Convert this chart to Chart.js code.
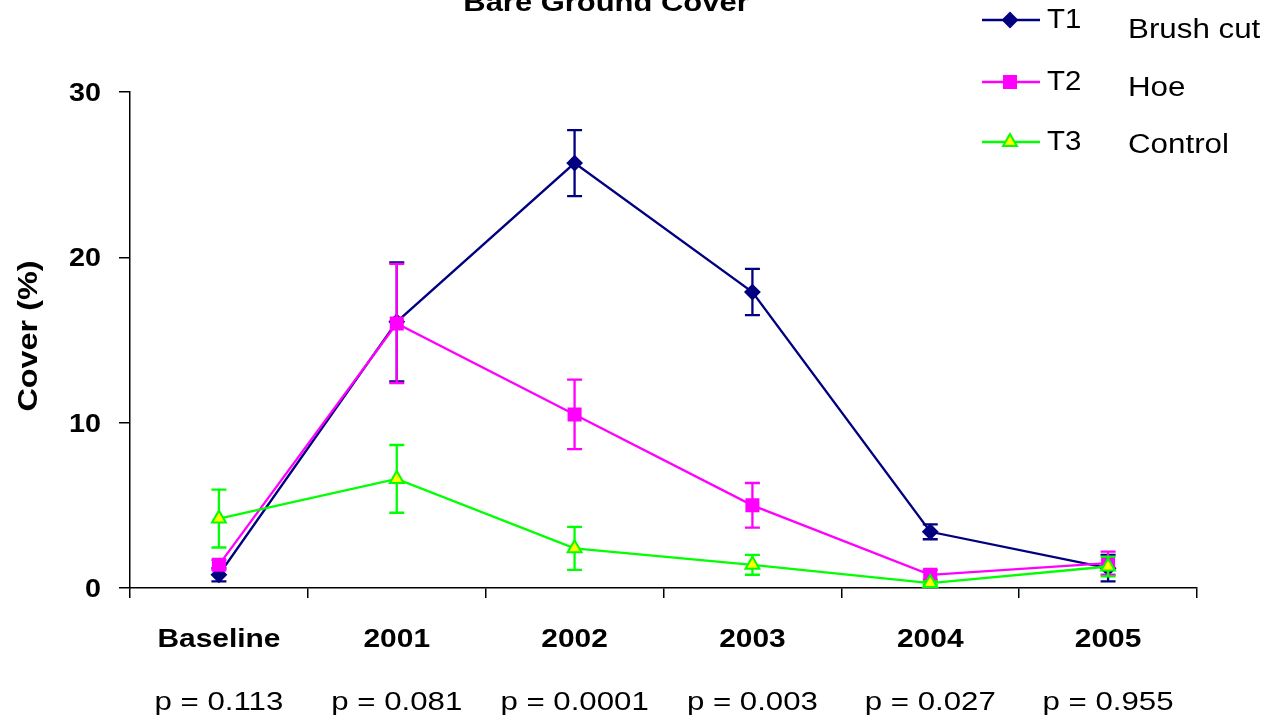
<!DOCTYPE html>
<html>
<head>
<meta charset="utf-8">
<script src="https://cdn.jsdelivr.net/npm/chart.js@4/dist/chart.umd.min.js"></script>
<style>
  html, body { margin: 0; padding: 0; background: #fff; }
  #wrap { width: 1270px; height: 717px; }
</style>
</head>
<body>
<div id="wrap"><canvas id="c" width="1270" height="717"></canvas></div>
<script>
const categories = ['Baseline', '2001', '2002', '2003', '2004', '2005'];
const pValues = ['p = 0.113', 'p = 0.081', 'p = 0.0001', 'p = 0.003', 'p = 0.027', 'p = 0.955'];
const seriesNames = ['T1', 'T2', 'T3'];
const treatmentNames = ['Brush cut', 'Hoe', 'Control'];
const t1Values = [0.8, 16.1, 25.7, 17.9, 3.4, 1.2];
const t1Err    = [0.4, 3.6, 2.0, 1.4, 0.45, 0.8];
const t2Values = [1.4, 16.0, 10.5, 5.0, 0.8, 1.5];
const t2Err    = [0.3, 3.6, 2.1, 1.35, 0.3, 0.7];
const t3Values = [4.2, 6.6, 2.4, 1.4, 0.3, 1.3];
const t3Err    = [1.75, 2.05, 1.3, 0.6, 0.1, 0.6];
const yTicks = [0, 10, 20, 30];
const chartTitle = 'Bare Ground Cover';
const yTitle = 'Cover (%)';

const FONT = "Arial, 'Liberation Sans', sans-serif";
const errSets = [t1Err, t2Err, t3Err];

function stretchText(ctx, text, x, y, font, align, sx, rot) {
  ctx.save();
  ctx.font = font;
  ctx.fillStyle = '#000';
  ctx.textBaseline = 'alphabetic';
  ctx.textAlign = align;
  ctx.translate(x, y);
  if (rot) ctx.rotate(rot);
  ctx.scale(sx, 1);
  ctx.fillText(text, 0, 0);
  ctx.restore();
}

function drawMarker(ctx, style, x, y, r, fill, stroke) {
  ctx.save();
  ctx.fillStyle = fill; ctx.strokeStyle = stroke; ctx.lineWidth = 2;
  ctx.beginPath();
  if (style === 'rectRot') {
    ctx.moveTo(x - r, y); ctx.lineTo(x, y - r); ctx.lineTo(x + r, y); ctx.lineTo(x, y + r); ctx.closePath();
  } else if (style === 'rect') {
    const s = r * Math.SQRT1_2;
    ctx.rect(x - s, y - s, 2 * s, 2 * s);
  } else {
    ctx.moveTo(x, y - r); ctx.lineTo(x + r * 0.866, y + r * 0.5); ctx.lineTo(x - r * 0.866, y + r * 0.5); ctx.closePath();
  }
  ctx.fill(); ctx.stroke();
  ctx.restore();
}

const customPlugin = {
  id: 'custom',
  beforeDatasetDraw(chart, args) {
    const i = args.index;
    const ds = chart.data.datasets[i];
    const errs = errSets[i];
    const xs = chart.scales.x, ys = chart.scales.y;
    const ctx = chart.ctx;
    ctx.save();
    ctx.strokeStyle = ds.borderColor;
    ctx.lineWidth = 2.3;
    ds.data.forEach((v, j) => {
      const x = xs.getPixelForValue(j);
      const yTop = ys.getPixelForValue(v + errs[j]);
      const yBot = ys.getPixelForValue(v - errs[j]);
      ctx.beginPath();
      ctx.moveTo(x, yTop); ctx.lineTo(x, yBot);
      ctx.moveTo(x - 7.5, yTop); ctx.lineTo(x + 7.5, yTop);
      ctx.moveTo(x - 7.5, yBot); ctx.lineTo(x + 7.5, yBot);
      ctx.stroke();
    });
    ctx.restore();
  },
  afterDraw(chart) {
    const ctx = chart.ctx;
    const xs = chart.scales.x, ys = chart.scales.y;
    // title
    stretchText(ctx, chartTitle, 606, 11, 'bold 26px ' + FONT, 'center', 1.19);
    // x tick labels
    categories.forEach((c, j) => {
      stretchText(ctx, c, xs.getPixelForValue(j), 647, 'bold 26px ' + FONT, 'center', 1.15);
    });
    // y tick labels
    yTicks.forEach(v => {
      stretchText(ctx, String(v), 101, ys.getPixelForValue(v) + 9, 'bold 25px ' + FONT, 'right', 1.15);
    });
    // y title
    stretchText(ctx, yTitle, 37, 336, 'bold 27px ' + FONT, 'center', 1.2, -Math.PI / 2);
    // p-values
    pValues.forEach((p, j) => {
      stretchText(ctx, p, xs.getPixelForValue(j), 710, '26px ' + FONT, 'center', 1.2);
    });
    // legend
    const rows = [20, 82, 142];
    const nameBase = [38, 96, 153];
    chart.data.datasets.forEach((ds, i) => {
      const y = rows[i];
      ctx.save();
      ctx.strokeStyle = ds.borderColor;
      ctx.lineWidth = 2.3;
      ctx.beginPath(); ctx.moveTo(982, y); ctx.lineTo(1040, y); ctx.stroke();
      ctx.restore();
      drawMarker(ctx, ds.pointStyle, 1010, y, ds.pointRadius, ds.pointBackgroundColor, ds.pointBorderColor);
      stretchText(ctx, seriesNames[i], 1047, y + 8, '28px ' + FONT, 'left', 1.05);
      stretchText(ctx, treatmentNames[i], 1128, nameBase[i], '27px ' + FONT, 'left', 1.16);
    });
  }
};

const datasets = [
  { label: seriesNames[0], data: t1Values, borderColor: '#000080', backgroundColor: '#000080',
    pointStyle: 'rectRot', pointRadius: 7, pointBackgroundColor: '#000080', pointBorderColor: '#000080', order: 3 },
  { label: seriesNames[1], data: t2Values, borderColor: '#FF00FF', backgroundColor: '#FF00FF',
    pointStyle: 'rect', pointRadius: 8.5, pointBackgroundColor: '#FF00FF', pointBorderColor: '#FF00FF', order: 2 },
  { label: seriesNames[2], data: t3Values, borderColor: '#00FF00', backgroundColor: '#FFFF00',
    pointStyle: 'triangle', pointRadius: 8, pointBackgroundColor: '#FFFF00', pointBorderColor: '#00FF00', order: 1 }
].map(d => Object.assign({ borderWidth: 2.3, pointBorderWidth: 2, tension: 0, fill: false, clip: false, pointHoverRadius: d.pointRadius }, d));

new Chart(document.getElementById('c'), {
  type: 'line',
  data: { labels: categories, datasets },
  options: {
    responsive: false,
    animation: false,
    events: [],
    layout: { padding: { top: 92, right: 73, left: 0, bottom: 0 } },
    plugins: { legend: { display: false }, tooltip: { enabled: false }, title: { display: false } },
    scales: {
      x: {
        type: 'category',
        offset: true,
        afterFit(s) { s.height = 129; },
        grid: { display: true, drawOnChartArea: false, drawTicks: true, tickLength: 10, offset: true, color: '#000', lineWidth: 1.5 },
        border: { display: true, color: '#000', width: 1.5 },
        ticks: { display: false, autoSkip: false }
      },
      y: {
        min: 0, max: 30,
        afterFit(s) { s.width = 130; },
        afterBuildTicks(s) { s.ticks = yTicks.map(v => ({ value: v })); },
        grid: { display: true, drawOnChartArea: false, drawTicks: true, tickLength: 11, color: '#000', lineWidth: 1.5 },
        border: { display: true, color: '#000', width: 1.5 },
        ticks: { display: false }
      }
    }
  },
  plugins: [customPlugin]
});
</script>
</body>
</html>
